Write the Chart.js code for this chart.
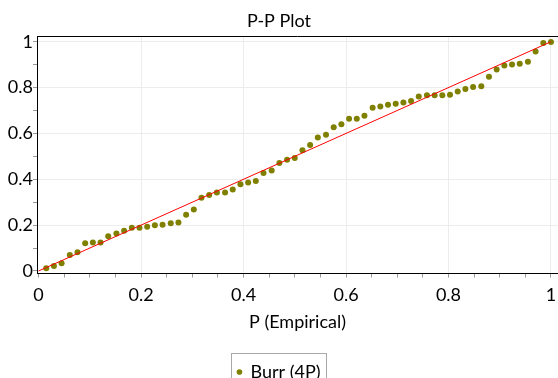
<!DOCTYPE html>
<html>
<head>
<meta charset="utf-8">
<script src="https://cdn.jsdelivr.net/npm/chart.js@4"></script>
<style>
  html, body { margin: 0; padding: 0; background: #fff; overflow: hidden; }
  #wrap { width: 558px; height: 391px; position: relative; }
</style>
</head>
<body>
<div id="wrap"><canvas id="pp"></canvas></div>
<script>
// empirical P (rank / n) and fitted Burr (4P) probability for each sample
const empirical = [
  0.015, 0.030, 0.045, 0.061, 0.076, 0.091, 0.106, 0.121, 0.136, 0.152, 0.167,
  0.182, 0.197, 0.212, 0.227, 0.242, 0.258, 0.273, 0.288, 0.303, 0.318, 0.333,
  0.348, 0.364, 0.379, 0.394, 0.409, 0.424, 0.439, 0.455, 0.470, 0.485, 0.500,
  0.515, 0.530, 0.545, 0.561, 0.576, 0.591, 0.606, 0.621, 0.636, 0.652, 0.667,
  0.682, 0.697, 0.712, 0.727, 0.742, 0.758, 0.773, 0.788, 0.803, 0.818, 0.833,
  0.848, 0.864, 0.879, 0.894, 0.909, 0.924, 0.939, 0.955, 0.970, 0.985, 1.000
];
const burr4p = [
  0.012, 0.022, 0.034, 0.070, 0.082, 0.121, 0.124, 0.124, 0.152, 0.163, 0.175,
  0.189, 0.189, 0.193, 0.199, 0.202, 0.208, 0.211, 0.245, 0.268, 0.319, 0.331,
  0.342, 0.342, 0.355, 0.378, 0.386, 0.393, 0.427, 0.438, 0.471, 0.485, 0.493,
  0.527, 0.549, 0.582, 0.594, 0.627, 0.640, 0.664, 0.664, 0.677, 0.712, 0.718,
  0.725, 0.729, 0.735, 0.742, 0.761, 0.767, 0.767, 0.767, 0.769, 0.783, 0.794,
  0.802, 0.806, 0.847, 0.879, 0.896, 0.901, 0.904, 0.913, 0.957, 0.995, 0.999
];
// diagonal reference line
const diagonal = [{ x: 0, y: 0 }, { x: 1, y: 1 }];

// tick positions (minor ones get no label)
const xTickValues = [0, 0.05, 0.1, 0.15, 0.2, 0.25, 0.3, 0.35, 0.4, 0.45, 0.5,
  0.55, 0.6, 0.65, 0.7, 0.75, 0.8, 0.85, 0.9, 0.95, 1];
const yTickValues = [0, 0.1, 0.2, 0.3, 0.4, 0.5, 0.6, 0.7, 0.8, 0.9, 1];
const majorTicks = [0, 0.2, 0.4, 0.6, 0.8, 1];
const majorLabels = ['0', '0.2', '0.4', '0.6', '0.8', '1'];

const majorIndex = (v) => majorTicks.findIndex(m => Math.abs(m - v) < 1e-9);
const tickLabel = (v) => { const k = majorIndex(v); return k >= 0 ? majorLabels[k] : ''; };
const gridColor = (ctx) => (ctx.tick && majorIndex(ctx.tick.value) > 0 ? '#ececec' : 'rgba(0,0,0,0)');

Chart.defaults.font.family = 'Lato';
Chart.defaults.font.size = 18;
Chart.defaults.color = '#000';

// top edge of the plot box and the frame around the legend
const frame = {
  id: 'frame',
  afterDraw(chart) {
    const { ctx, chartArea, legend } = chart;
    ctx.save();
    ctx.strokeStyle = '#000';
    ctx.lineWidth = 1;
    ctx.beginPath();
    ctx.moveTo(chartArea.left, Math.round(chartArea.top) + 0.5);
    ctx.lineTo(chartArea.right, Math.round(chartArea.top) + 0.5);
    ctx.stroke();
    const hb = legend.legendHitBoxes[0];
    if (hb) {
      ctx.strokeStyle = '#a8a8a8';
      ctx.strokeRect(Math.round(hb.left - 6) + 0.5, Math.round(legend.top) + 0.5,
        Math.round(hb.width + 12), Math.round(legend.height));
    }
    ctx.restore();
  }
};

new Chart(document.getElementById('pp'), {
  type: 'scatter',
  data: {
    datasets: [
      {
        type: 'line',
        label: 'Diagonal',
        data: diagonal,
        borderColor: '#ff0000',
        borderWidth: 1,
        pointRadius: 0,
        fill: false,
        order: 0,
      },
      {
        label: 'Burr (4P)',
        data: empirical.map((x, i) => ({ x: x, y: burr4p[i] })),
        backgroundColor: '#808000',
        borderWidth: 0,
        pointRadius: 3,
        pointHoverRadius: 3,
        order: 1,
      },
    ]
  },
  options: {
    responsive: true,
    maintainAspectRatio: false,
    animation: false,
    // plot box runs right up to the canvas edge
    layout: { padding: 0, autoPadding: false },
    plugins: {
      title: {
        display: true,
        text: 'P-P Plot',
        font: { size: 18, weight: 'normal' },
        padding: { top: 10, bottom: 4.4 },
      },
      legend: {
        position: 'bottom',
        labels: {
          usePointStyle: true,
          boxWidth: 4,
          boxHeight: 4,
          padding: 10,
          filter: (item) => item.datasetIndex === 1,
        },
      },
      tooltip: { enabled: false },
    },
    scales: {
      x: {
        type: 'linear',
        min: -0.003,
        max: 1.0137,
        afterBuildTicks: (scale) => { scale.ticks = xTickValues.map(v => ({ value: v })); },
        afterFit: (scale) => {
          scale.height = 79.5;
          scale.paddingLeft = 0;
          scale.paddingRight = 0;
        },
        ticks: { padding: 7, autoSkip: false, maxRotation: 0, callback: tickLabel },
        grid: { color: gridColor, tickColor: '#999', tickLength: 4 },
        border: { color: '#000', width: 1 },
        title: { display: true, text: 'P (Empirical)', padding: { top: 0, bottom: 20 } },
      },
      y: {
        type: 'linear',
        min: -0.011,
        max: 1.025,
        afterBuildTicks: (scale) => { scale.ticks = yTickValues.map(v => ({ value: v })); },
        afterFit: (scale) => { scale.width = 37; },
        ticks: { padding: 0, autoSkip: false, callback: tickLabel },
        grid: { color: gridColor, tickColor: '#999', tickLength: 4 },
        border: { color: '#000', width: 1 },
      },
    },
  },
  plugins: [frame],
});
</script>
</body>
</html>
